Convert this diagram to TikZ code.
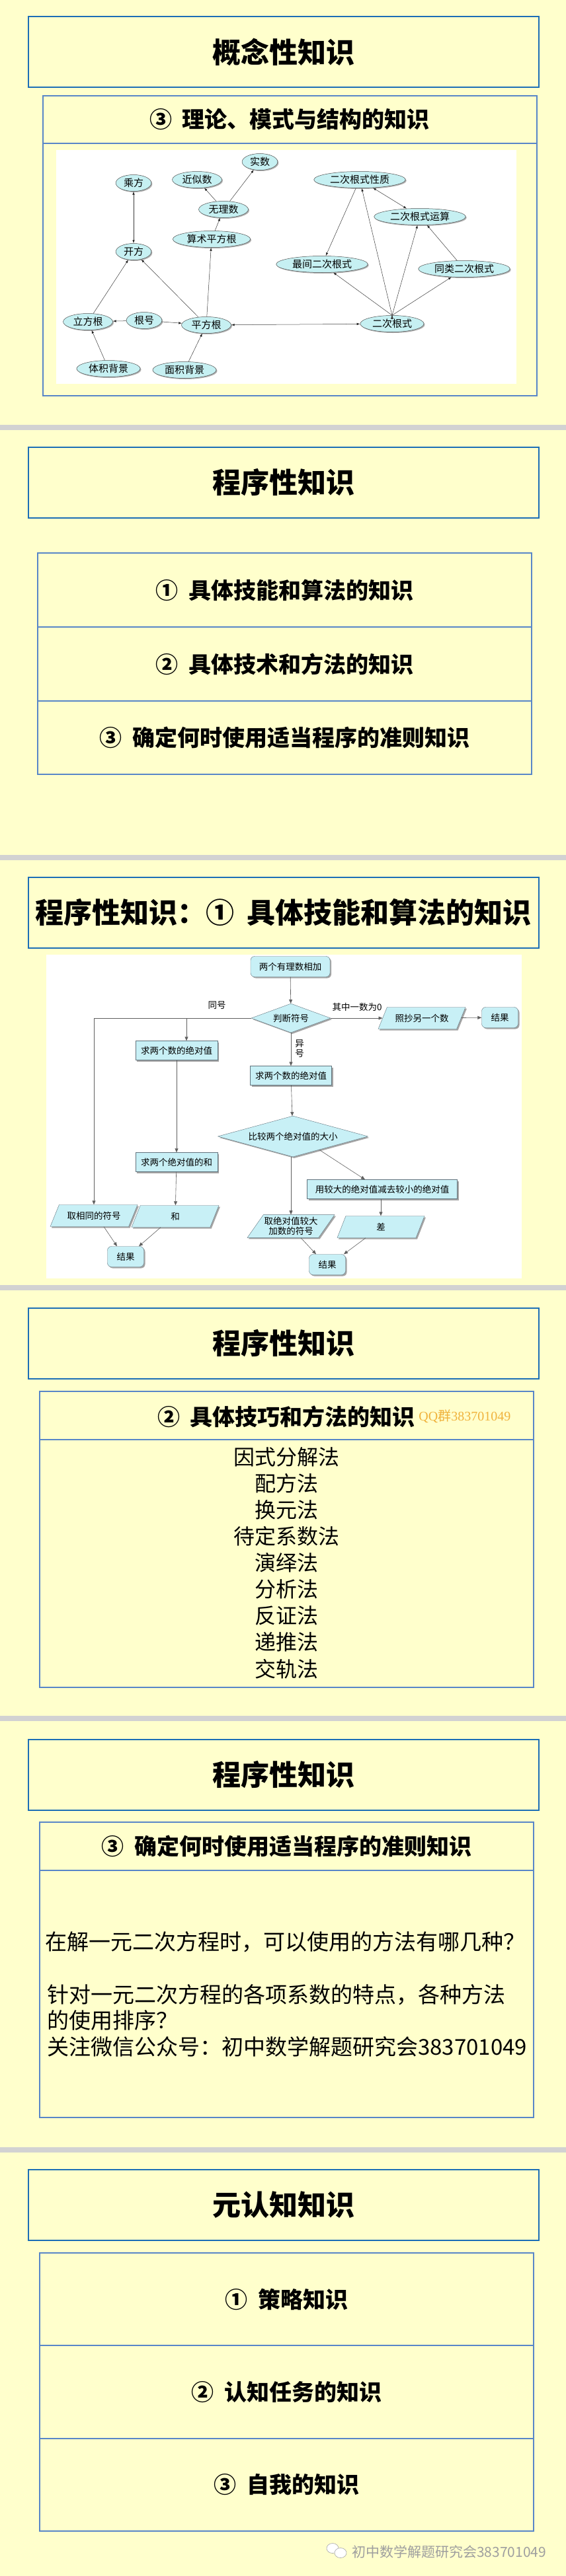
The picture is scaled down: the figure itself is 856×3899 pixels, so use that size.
\documentclass[tikz,border=0pt]{standalone}
\usepackage{fontspec}
\setmainfont{Noto Sans CJK SC}
\newfontfamily\qqfont{Liberation Serif}
\usetikzlibrary{positioning, arrows.meta, shapes.geometric, shadows, calc}
\definecolor{paper}{RGB}{255,255,204}
\definecolor{titleblue}{RGB}{28,110,182}
\definecolor{boxblue}{RGB}{88,134,200}
\definecolor{bubble}{RGB}{198,240,242}
\definecolor{flowcyan}{RGB}{200,240,246}
\definecolor{linegray}{RGB}{95,95,95}
\definecolor{qqorange}{RGB}{240,178,60}
\newcommand{\numgap}{\hspace{0.45em}}
\tikzset{%
  title box/.style={
    draw=titleblue,
    line width=2pt,
    minimum width=772,
    minimum height=107,
    font=\bfseries\fontsize{43}{50}\selectfont
  },
  item row/.style={
    draw=boxblue,
    line width=2pt,
    minimum width=747,
    font=\bfseries\fontsize{34}{40}\selectfont
  },
  plain text/.style={
    font=\fontsize{33}{40}\selectfont,
    inner sep=0pt
  }
}

\begin{document}
\begin{tikzpicture}[x=1pt, y=-1pt,
  concept/.style={ellipse, draw=gray!60!black, line width=0.5pt, fill=bubble,
    inner xsep=4pt, inner ysep=1pt, minimum height=25,
    font=\fontsize{15}{16}\selectfont,
    drop shadow={shadow xshift=1.5pt, shadow yshift=-1.5pt, fill=gray, opacity=0.6}},
  link/.style={draw=gray!45!black, line width=0.5pt, -{Latex[length=5pt,width=3.5pt]}},
  both/.style={draw=gray!45!black, line width=0.5pt, {Latex[length=5pt,width=3.5pt]}-{Latex[length=5pt,width=3.5pt]}},
  flow box/.style={rectangle, draw=gray!60!cyan!60!black, line width=0.4pt, fill=flowcyan,
    minimum height=29, inner xsep=4pt, font=\fontsize{13.5}{15}\selectfont,
    drop shadow={shadow xshift=2pt, shadow yshift=-2pt, fill=gray, opacity=0.7}},
  flow end/.style={flow box, rounded corners=6pt, minimum height=31, minimum width=55},
  flow dia/.style={flow box, diamond, inner sep=0pt},
  flow para/.style={flow box, trapezium, trapezium left angle=55, trapezium right angle=125,
    trapezium stretches body, minimum width=132, minimum height=33, inner xsep=1pt},
  flow/.style={draw=linegray, line width=0.6pt, -{Triangle[length=6pt,width=5pt]}},
  flow label/.style={font=\fontsize{13.5}{15}\selectfont, inner sep=0pt}]
  \useasboundingbox (0,0) rectangle (856,3899);
  \fill[paper] (0,0) rectangle (856,3899);
  %% separators
  \foreach \y in {643,1294,1945,2597,3250}
    \fill[gray!35] (0,\y) rectangle (856,\y+8);

  %% concept knowledge
  \node[title box] (t1) at (428.8,78.5) {概念性知识};
  \node[item row, minimum width=747, minimum height=72] (h1) at (438,181) {③\numgap 理论、模式与结构的知识};
  \node[draw=boxblue, line width=2pt, minimum width=747, minimum height=382] (b1) at (438,408) {};
  \fill[white] (84.6,227) rectangle (780.6,581);
  % nodes
  \node[concept] (shishu) at (393,245) {实数};
  \node[concept] (chengfang) at (202,277) {乘方};
  \node[concept] (jinsi) at (298,272) {近似数};
  \node[concept] (wuli) at (338,317) {无理数};
  \node[concept] (suanshu) at (320,362) {算术平方根};
  \node[concept] (kaifang) at (202,381) {开方};
  \node[concept] (xingzhi) at (544,272) {二次根式性质};
  \node[concept] (yunsuan) at (635,328) {二次根式运算};
  \node[concept] (zuijian) at (487,400) {最间二次根式};
  \node[concept] (tonglei) at (702,407) {同类二次根式};
  \node[concept] (lifang) at (133,487) {立方根};
  \node[concept] (genhao) at (218,485) {根号};
  \node[concept] (pingfang) at (312,492) {平方根};
  \node[concept] (ercigen) at (593,490) {二次根式};
  \node[concept] (tiji) at (164,558) {体积背景};
  \node[concept] (mianji) at (279,560) {面积背景};
  % links
  \path [both] (chengfang) edge (kaifang);
  \path [link] (wuli) edge (jinsi);
  \path [link] (wuli) edge (shishu);
  \path [link] (suanshu) edge (wuli);
  \path [link] (pingfang) edge (suanshu);
  \path [link] (lifang) edge (kaifang);
  \path [link] (pingfang) edge (kaifang);
  \path [link] (genhao) edge (lifang);
  \path [link] (genhao) edge (pingfang);
  \path [link] (tiji) edge (lifang);
  \path [link] (mianji) edge (pingfang);
  \path [both] (pingfang) edge (ercigen);
  \path [link] (ercigen.north) edge (zuijian);
  \path [link] (ercigen.north) edge (xingzhi);
  \path [link] (xingzhi) edge (zuijian);
  \path [link] (ercigen.north) edge (yunsuan);
  \path [link] (ercigen.north) edge (tonglei);
  \path [link] (tonglei) edge (yunsuan);
  \path [both] (xingzhi) edge (yunsuan);

  %% procedural knowledge
  \node[title box] (t2) at (428.8,730) {程序性知识};
  \node[item row, minimum height=112] (p1) at (430.5,893) {①\numgap 具体技能和算法的知识};
  \node[item row, minimum height=112] (p2) at (430.5,1005) {②\numgap 具体技术和方法的知识};
  \node[item row, minimum height=111] (p3) at (430.5,1116.5) {③\numgap 确定何时使用适当程序的准则知识};

  %% procedural knowledge 1: flow chart
  \node[title box] (t3) at (428.8,1381.5) {程序性知识：①\numgap 具体技能和算法的知识};
  \fill[white] (70,1445) rectangle (789,1935);
  \node[flow end, minimum width=120] (start) at (439,1463) {两个有理数相加};
  \node[flow dia, aspect=2.7, minimum width=120, minimum height=44] (sign) at (440,1541) {判断符号};
  \node[flow box, minimum width=124] (absL) at (267,1590) {求两个数的绝对值};
  \node[flow box, minimum width=124] (sumL) at (267,1759) {求两个绝对值的和};
  \node[flow para] (signL) at (142,1840) {取相同的符号};
  \node[flow para] (sumP) at (265,1841) {和};
  \node[flow end] (endL) at (190,1902) {结果};
  \node[flow para] (copyP) at (638,1541) {照抄另一个数};
  \node[flow end] (endR) at (756,1540) {结果};
  \node[flow box, minimum width=123] (absR) at (440,1628) {求两个数的绝对值};
  \node[flow dia, aspect=3.66, minimum width=227, minimum height=62] (cmp) at (443,1720) {比较两个绝对值的大小};
  \node[flow para, align=center, font=\fontsize{13.5}{15.5}\selectfont] (bigP) at (440,1856) {取绝对值较大\\加数的符号};
  \node[flow box, minimum width=227] (sub) at (578,1800) {用较大的绝对值减去较小的绝对值};
  \node[flow para] (diffP) at (576,1857) {差};
  \node[flow end] (endB) at (495,1914) {结果};
  \node[flow label] (same) at (328,1522) {同号};
  \node[flow label] (zero) at (540,1524) {其中一数为0};
  \node[flow label, align=center, font=\fontsize{13.5}{15}\selectfont] (diff) at (453,1587) {异\\号};
  \coordinate (brL) at (282,1541);
  % connectors
  \draw[flow] (start) -- (sign);
  \draw[flow] (sign.west) -| (signL.north);
  \draw[flow] (brL) -- (brL |- absL.north);
  \draw[flow] (absL) -- (sumL);
  \draw[flow] (sumL) -- (sumP);
  \draw[flow] ([xshift=15]signL.south) -- ([xshift=-13]endL.north);
  \draw[flow] ([xshift=-22]sumP.south) -- ([xshift=20]endL.north);
  \draw[flow] (sign) -- (copyP);
  \draw[flow] (copyP) -- (endR);
  \draw[flow] (sign) -- (absR);
  \draw[flow] (absR) -- (cmp);
  \draw[flow] (cmp.south -| bigP.north) -- (bigP.north);
  \draw[flow] ($(cmp.south)!0.35!(cmp.east)$) -- ([xshift=-26]sub.north);
  \draw[flow] (sub.south -| diffP.north) -- (diffP.north);
  \draw[flow] ([xshift=15]bigP.south) -- ([xshift=-17]endB.north);
  \draw[flow] ([xshift=-23]diffP.south) -- ([xshift=25]endB.north);

  %% procedural knowledge 2
  \node[title box] (t4) at (428.8,2033.5) {程序性知识};
  \node[item row, minimum height=72.5] (h4) at (433.5,2142.3) {};
  \node[font=\bfseries\fontsize{34}{40}\selectfont] (s4) at (433,2144) {②\numgap 具体技巧和方法的知识};
  \node[right=2pt of s4, text=qqorange, inner sep=0pt, font=\qqfont\fontsize{20}{22}\selectfont] (qq) {QQ{\fontspec{Noto Sans CJK SC}群}383701049};
  \node[draw=boxblue, line width=2pt, minimum width=747, minimum height=375.5] (b4) at (433.5,2366.3) {};
  \foreach \name [count=\i] in {因式分解法,配方法,换元法,待定系数法,演绎法,分析法,反证法,递推法,交轨法}
    \node[plain text, font=\fontsize{32}{38}\selectfont] (m\i) at (433.5,{2205+40.1*(\i-1)}) {\name};

  %% procedural knowledge 3
  \node[title box] (t5) at (428.8,2686) {程序性知识};
  \node[item row, minimum height=73] (h5) at (433.5,2794.5) {③\numgap 确定何时使用适当程序的准则知识};
  \node[draw=boxblue, line width=2pt, minimum width=747, minimum height=374] (b5) at (433.5,3018) {};
  \node[plain text, anchor=west] (q1) at (68,2939) {在解一元二次方程时，可以使用的方法有哪几种？};
  \node[plain text, anchor=west] (q2) at (71,3019) {针对一元二次方程的各项系数的特点，各种方法};
  \node[plain text, anchor=west] (q3) at (71,3058) {的使用排序？};
  \node[plain text, anchor=west] (q4) at (71,3098) {关注微信公众号：初中数学解题研究会383701049};

  %% metacognitive knowledge
  \node[title box] (t6) at (428.8,3337) {元认知知识};
  \node[item row, minimum height=140] (r1) at (433.5,3480) {①\numgap 策略知识};
  \node[item row, minimum height=141] (r2) at (433.5,3620.5) {②\numgap 认知任务的知识};
  \node[item row, minimum height=140] (r3) at (433.5,3761) {③\numgap 自我的知识};
  % mark
  \draw[gray!70, fill=white, line width=0.6pt] (503,3857) ellipse (9 and 7.5);
  \draw[gray!70, fill=white, line width=0.6pt] (515,3864) ellipse (9 and 7.5);
  \node[anchor=west, text=gray!75, inner sep=0pt, font=\fontsize{21}{24}\selectfont] (mark) at (532,3862) {初中数学解题研究会383701049};
\end{tikzpicture}
\end{document}
